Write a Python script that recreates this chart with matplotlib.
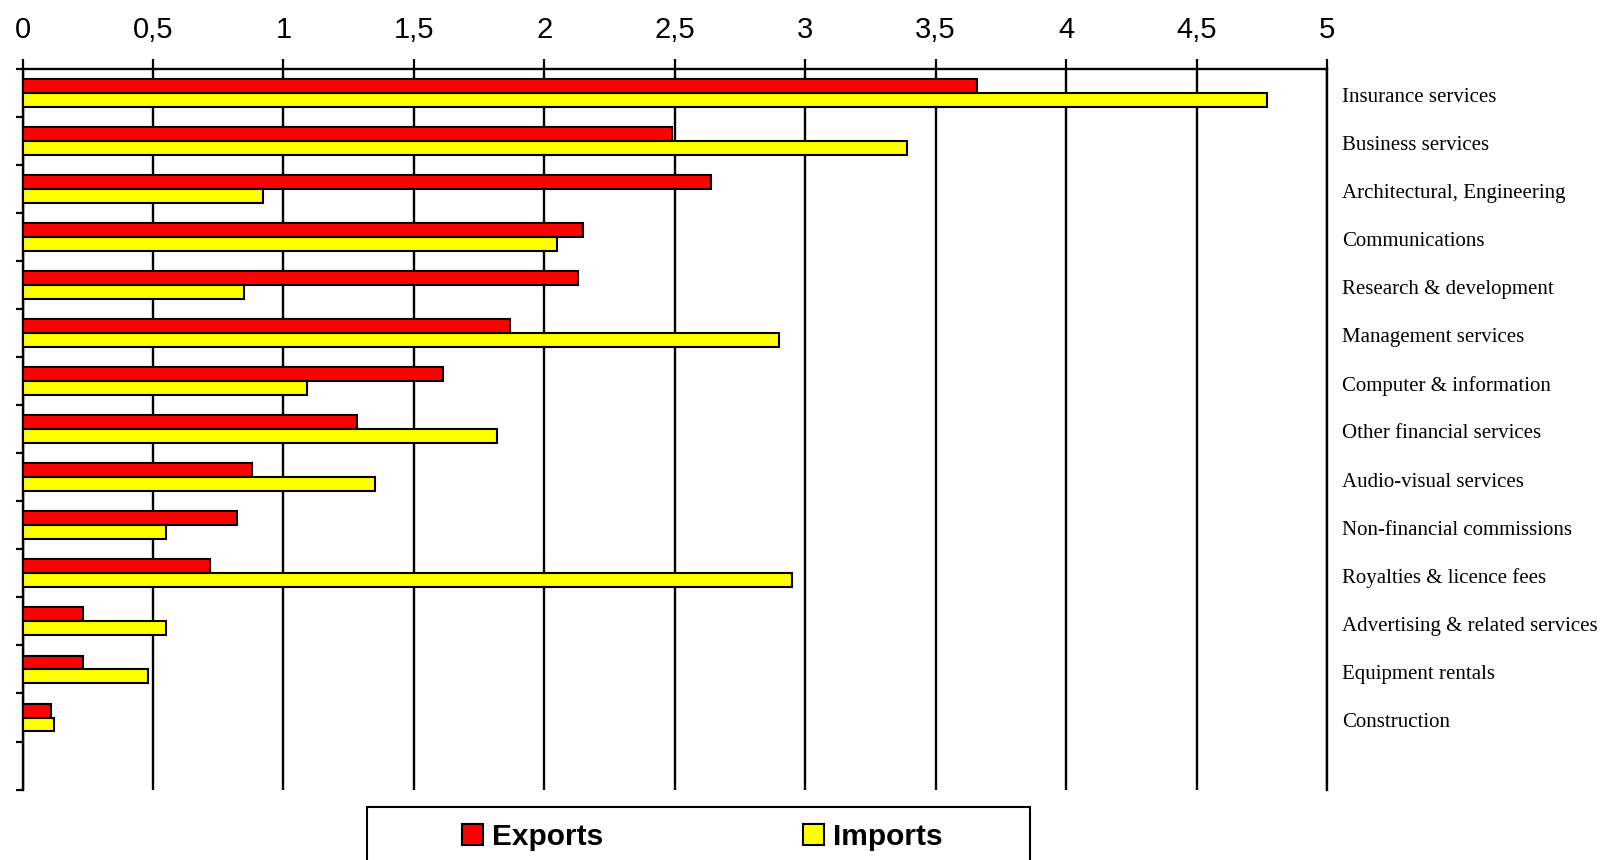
import numpy as np
import matplotlib
matplotlib.use("Agg")
import matplotlib.pyplot as plt
from matplotlib.patches import Rectangle, Patch

# data
categories = ["Insurance services", "Business services", "Architectural, Engineering",
              "Communications", "Research & development", "Management services",
              "Computer & information", "Other financial services", "Audio-visual services",
              "Non-financial commissions", "Royalties & licence fees",
              "Advertising & related services", "Equipment rentals", "Construction"]
exports = [3.66, 2.49, 2.64, 2.15, 2.13, 1.87, 1.61, 1.28, 0.88, 0.82, 0.72, 0.23, 0.23, 0.11]
imports = [4.77, 3.39, 0.92, 2.05, 0.85, 2.90, 1.09, 1.82, 1.35, 0.55, 2.95, 0.55, 0.48, 0.12]
x_ticks = [0, 0.5, 1, 1.5, 2, 2.5, 3, 3.5, 4, 4.5, 5]
x_tick_labels = ["0", "0,5", "1", "1,5", "2", "2,5", "3", "3,5", "4", "4,5", "5"]

fig = plt.figure(figsize=(16.08, 8.6), dpi=100)
ax = fig.add_axes([22.6 / 1608, 1 - 789.6 / 860, (1327 - 22.6) / 1608, (789.6 - 68.7) / 860])

n_slots = len(categories) + 1  # one empty slot at the bottom
pos = np.arange(len(categories)) + 0.5
h = 0.29

ax.barh(pos - h / 2, exports, height=h, color="#ff0000", edgecolor="black", linewidth=1.5, zorder=3)
ax.barh(pos + h / 2, imports, height=h, color="#ffff00", edgecolor="black", linewidth=1.5, zorder=3)

ax.set_xlim(0, 5)
ax.set_ylim(n_slots, 0)

ax.set_xticks(x_ticks)
ax.set_xticklabels(x_tick_labels, fontsize=21, family="Liberation Sans")
ax.xaxis.tick_top()
ax.tick_params(axis="x", direction="out", length=7, width=1.6, pad=11)
ax.set_yticks(np.arange(n_slots + 1))
ax.set_yticklabels([])
ax.tick_params(axis="y", direction="out", length=5, width=1.6)
ax.grid(axis="x", color="black", linewidth=1.7, zorder=0)

for side in ["top", "left", "right"]:
    ax.spines[side].set_linewidth(1.7)
ax.spines["bottom"].set_visible(False)

# category names on the right
for y, name in zip(pos, categories):
    ax.text(1.0115, y + 0.1, name, transform=ax.get_yaxis_transform(),
            ha="left", va="center", fontsize=15, family="Liberation Serif")

# legend with its own box at the bottom
fig.patches.append(Rectangle((367 / 1608, -0.05), 663 / 1608, (860 - 807) / 860 + 0.05,
                             transform=fig.transFigure, fill=False, edgecolor="black", linewidth=1.5))
handles = [Patch(facecolor="#ff0000", edgecolor="black", linewidth=1.5),
           Patch(facecolor="#ffff00", edgecolor="black", linewidth=1.5)]
fig.legend(handles, ["Exports", "Imports"], loc="center", bbox_to_anchor=(702 / 1608, 1 - 837 / 860),
           ncol=2, frameon=False, handlelength=0.7, handleheight=0.7, handletextpad=0.3,
           columnspacing=6.7, borderpad=0,
           prop={"family": "Liberation Sans", "weight": "bold", "size": 21.5})

fig.savefig("out.png", dpi=100)
